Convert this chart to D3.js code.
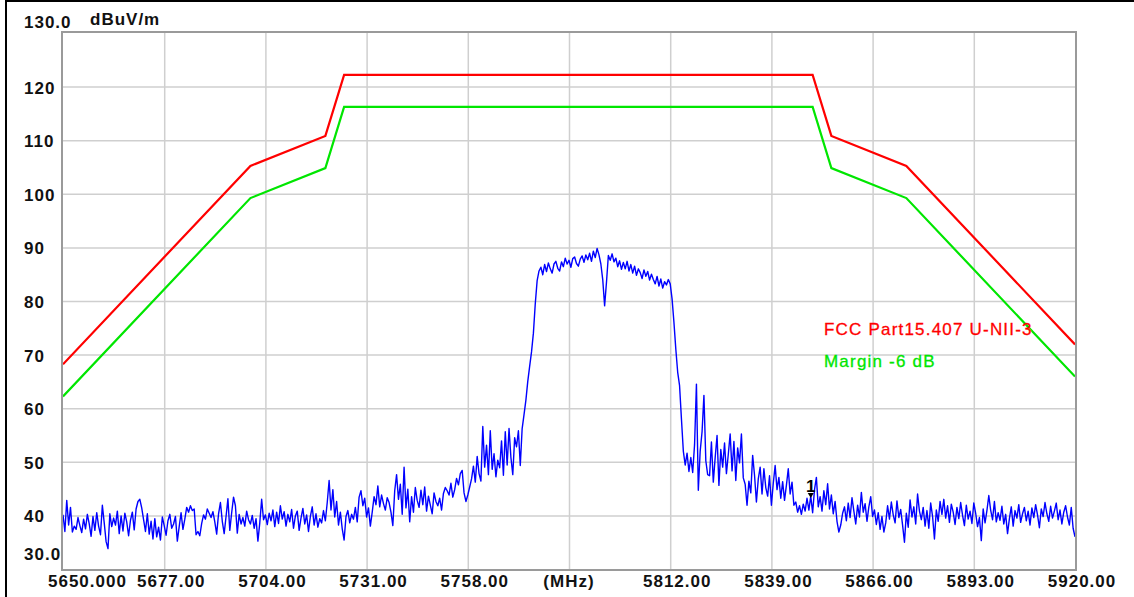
<!DOCTYPE html>
<html>
<head>
<meta charset="utf-8">
<script src="https://cdn.jsdelivr.net/npm/d3@7/dist/d3.min.js"></script>
<style>
  html, body { margin: 0; padding: 0; background: #fff; }
  text { font-family: "Liberation Sans", Arial, sans-serif; }
</style>
</head>
<body>
<div id="chart"></div>
<script>
var width = 1134,
	height = 597,
	plotLeft = 63,
	plotRight = 1075,
	plotTop = 33,
	plotBottom = 569;

// frequency axis (MHz)
var xTickValues = [5650, 5677, 5704, 5731, 5758, 5785, 5812, 5839, 5866, 5893, 5920];
var xTickLabels = ["5650.000", "5677.00", "5704.00", "5731.00", "5758.00", "(MHz)", "5812.00", "5839.00", "5866.00", "5893.00", "5920.00"];

// level axis (dBuV/m)
var yTickValues = [30, 40, 50, 60, 70, 80, 90, 100, 110, 120, 130];
var yTickLabels = ["30.0", "40", "50", "60", "70", "80", "90", "100", "110", "120", "130.0"];
var yUnit = "dBuV/m";

// FCC Part15.407 U-NII-3 limit and the -6 dB margin line
var limitFreq = [5650, 5700, 5720, 5725, 5850, 5855, 5875, 5920];
var limitLevel = [68.2, 105.2, 110.8, 122.2, 122.2, 110.8, 105.2, 71.9];
var marginLevel = [62.2, 99.2, 104.8, 116.2, 116.2, 104.8, 99.2, 65.9];
var legendNames = ["FCC Part15.407 U-NII-3", "Margin -6 dB"];

// measured trace, 5650 MHz .. 5920 MHz every 0.5 MHz
var traceStart = 5650,
	traceStep = 0.5;
var traceLevel = [
	40.1, 37.0, 42.8, 38.2, 41.5, 36.9, 38.0, 37.4, 39.6, 38.1,
	36.8, 39.3, 37.5, 40.2, 38.4, 36.1, 39.8, 37.2, 40.5, 38.0,
	36.4, 41.9, 38.6, 35.1, 33.8, 40.3, 37.9, 39.5, 38.2, 40.8,
	36.6, 39.9, 37.1, 40.4, 38.8, 36.2, 39.1, 40.6, 37.3, 41.2,
	42.6, 43.0, 41.4, 39.2, 37.0, 40.3, 36.5, 38.9, 35.6, 39.4,
	36.0, 37.8, 35.4, 39.7, 38.1, 36.3, 39.0, 40.2, 37.6, 38.4,
	39.8, 35.2, 37.9, 40.5, 37.4, 39.3, 41.5, 40.6, 41.8, 40.9,
	41.2, 36.4, 37.0, 36.2, 38.5, 40.1, 39.3, 41.2, 40.4, 39.6,
	40.7, 38.8, 36.5, 40.3, 42.4, 38.9, 36.6, 39.8, 43.1, 37.2,
	40.5, 43.4, 41.8, 36.7, 40.2, 38.4, 39.6, 38.0, 40.8, 39.2,
	38.4, 40.0, 37.6, 39.4, 35.2, 38.6, 43.0, 39.2, 40.1, 38.3,
	40.4, 39.0, 41.0, 37.9, 40.6, 38.5, 41.8, 39.3, 40.7, 38.0,
	40.2, 38.8, 41.1, 37.6, 39.9, 40.8, 37.2, 39.5, 41.3, 38.4,
	40.1, 37.0, 39.8, 41.6, 38.2, 40.3, 37.8, 39.4, 38.6, 40.9,
	39.0, 42.4, 46.5, 41.0, 44.8, 39.7, 42.6, 38.2, 40.6, 37.5,
	35.4, 39.8, 40.9, 38.6, 40.2, 39.3, 41.5, 38.8, 43.4, 44.6,
	41.8, 43.2, 39.7, 41.4, 38.0, 40.6, 43.5, 42.0, 45.5, 41.6,
	43.8, 42.2, 41.0, 43.3, 42.4, 40.6, 38.1, 44.6, 47.6, 43.0,
	45.8, 40.2, 49.0, 41.4, 44.9, 38.8, 43.5, 40.6, 45.2, 42.8,
	41.5, 44.7, 42.0, 45.3, 40.8, 43.6, 41.9, 40.3, 44.2, 42.6,
	41.8, 43.2, 41.0, 44.1, 45.2, 44.6, 43.8, 46.0, 43.4, 44.8,
	46.9, 45.7, 47.8, 48.4, 44.2, 42.6, 43.8, 45.3, 46.8, 49.2,
	46.2, 51.0, 47.8, 46.4, 56.6, 49.0, 53.1, 47.6, 55.8, 48.6,
	51.5, 47.2, 50.3, 48.9, 53.9, 47.5, 55.6, 49.4, 56.2, 50.8,
	47.6, 54.5, 52.8, 55.8, 49.3, 56.2, 58.8, 61.5, 65.0, 67.8,
	70.5, 74.0, 79.5, 83.8, 85.6, 86.3, 84.9, 86.8, 85.5, 87.1,
	86.0, 85.2, 86.9, 87.4, 86.1, 85.6, 87.3, 86.4, 88.0, 86.9,
	87.6, 86.3, 87.9, 88.2, 87.0, 86.5, 87.8, 88.4, 87.2, 88.6,
	87.7, 88.9, 87.4, 89.3, 88.1, 89.8, 88.6, 86.9, 84.0, 79.1,
	83.5, 88.5, 87.6, 88.8, 87.3, 88.0, 86.4, 87.5, 85.9, 87.2,
	86.0, 87.4, 85.6, 86.8, 85.2, 86.5, 84.8, 86.0, 85.3, 84.2,
	85.8, 84.6, 85.5, 83.9, 85.0, 84.0, 83.2, 84.6, 82.8, 84.1,
	82.4, 83.6, 83.0, 84.0, 83.2, 80.4, 76.0, 71.0, 66.7, 64.2,
	58.0, 52.0, 49.4, 51.6, 48.2, 50.8, 48.0, 53.2, 64.5, 44.7,
	52.0, 55.6, 62.4, 50.2, 47.6, 47.4, 53.7, 46.2, 50.8, 54.9,
	45.6, 52.3, 49.0, 53.5, 47.8, 51.4, 55.2, 48.3, 53.8, 46.5,
	52.6, 49.8, 55.2, 47.0, 45.8, 41.9, 46.4, 44.2, 51.2, 47.5,
	42.5, 46.8, 49.0, 44.0, 48.7, 45.2, 43.6, 47.4, 41.9, 46.0,
	49.3, 44.8, 47.1, 43.2, 46.3, 42.8, 45.6, 48.7, 44.0, 46.2,
	41.9, 42.5, 40.6, 41.8, 40.2, 42.1, 40.8, 43.2, 41.0, 43.6,
	40.5, 44.8, 47.1, 41.6, 43.5, 40.8, 44.6, 42.0, 45.9, 41.2,
	43.8, 40.3, 42.6, 38.9, 36.9, 38.2, 40.4, 41.6, 39.0, 42.3,
	39.6, 43.3, 40.8, 38.4, 41.9, 39.7, 44.3, 40.6, 42.2, 38.9,
	41.6, 43.5, 39.8, 41.0, 38.3, 40.5, 37.4, 39.8, 36.9, 38.6,
	41.8, 39.3, 42.5, 40.1, 38.6, 42.7, 39.6, 41.1, 38.2, 35.0,
	40.4, 37.8, 42.9, 39.7, 41.6, 38.4, 44.0, 40.8, 39.2, 41.5,
	38.0, 40.9, 37.6, 42.3, 39.8, 35.6, 41.0, 38.9, 42.6, 40.2,
	43.0, 39.5, 41.8, 38.7, 42.1, 40.6, 38.3, 41.5, 39.4, 42.4,
	40.0, 38.1, 41.9, 39.3, 40.8, 38.5, 42.3, 40.4, 37.9, 39.6,
	35.3, 41.2, 38.6, 40.9, 43.7, 41.0, 39.2, 42.6, 38.8, 40.5,
	39.1, 41.7, 38.4, 40.2, 36.6, 39.4, 41.6, 38.0, 40.9, 39.5,
	42.0, 38.7, 40.3, 41.5, 39.0, 40.8, 38.2, 41.4, 39.6, 42.0,
	40.1, 37.7, 41.2, 39.8, 42.4, 40.3, 38.9, 41.7, 39.5, 40.8,
	42.3, 39.2, 41.0, 38.4, 40.6, 41.8, 39.7, 38.2, 41.5, 37.6,
	36.0
];

// marker 1
var markerFreq = 5849.5,
	markerLabel = "1";

var x = d3.scaleLinear().domain([5650, 5920]).range([plotLeft, plotRight]);
var y = d3.scaleLinear().domain([30, 130]).range([plotBottom, plotTop]);

var svg = d3.select("#chart").append("svg")
	.attr("width", width)
	.attr("height", height)
	.style("display", "block");

svg.append("rect")
	.attr("width", width)
	.attr("height", height)
	.attr("fill", "#fff");

// outer frame (left and top edges are visible)
svg.append("path")
	.attr("d", "M6," + height + "V1H" + width)
	.attr("fill", "none")
	.attr("stroke", "#000")
	.attr("stroke-width", 2);

// grid
svg.append("g")
	.attr("class", "xgrid")
	.attr("transform", "translate(0," + plotBottom + ")")
	.call(d3.axisBottom(x)
		.tickValues(xTickValues.slice(1, -1))
		.tickSize(-(plotBottom - plotTop))
		.tickFormat(""))
	.call(function(g) { g.select(".domain").remove(); })
	.selectAll("line")
	.attr("stroke", "#cfcfcf")
	.attr("stroke-width", 1.5);

svg.append("g")
	.attr("class", "ygrid")
	.attr("transform", "translate(" + plotLeft + ",0)")
	.call(d3.axisLeft(y)
		.tickValues(yTickValues.slice(1, -1))
		.tickSize(-(plotRight - plotLeft))
		.tickFormat(""))
	.call(function(g) { g.select(".domain").remove(); })
	.selectAll("line")
	.attr("stroke", "#cfcfcf")
	.attr("stroke-width", 1.5);

// plot border
svg.append("rect")
	.attr("x", plotLeft - 1)
	.attr("y", plotTop - 1)
	.attr("width", plotRight - plotLeft + 2)
	.attr("height", plotBottom - plotTop + 2)
	.attr("fill", "none")
	.attr("stroke", "#9a9a9a")
	.attr("stroke-width", 2);

svg.append("clipPath")
	.attr("id", "plot-clip")
	.append("rect")
	.attr("x", plotLeft)
	.attr("y", plotTop)
	.attr("width", plotRight - plotLeft)
	.attr("height", plotBottom - plotTop);

var plot = svg.append("g").attr("clip-path", "url(#plot-clip)");

var limitLine = d3.line()
	.x(function(d, i) { return x(limitFreq[i]); })
	.y(function(d) { return y(d); });

var traceLine = d3.line()
	.x(function(d, i) { return x(traceStart + i * traceStep); })
	.y(function(d) { return y(d); });

plot.append("path")
	.datum(traceLevel)
	.attr("d", traceLine)
	.attr("fill", "none")
	.attr("stroke", "#0000ff")
	.attr("stroke-width", 1.4)
	.attr("stroke-linejoin", "round");

plot.append("path")
	.datum(marginLevel)
	.attr("d", limitLine)
	.attr("fill", "none")
	.attr("stroke", "#00e600")
	.attr("stroke-width", 2.2);

plot.append("path")
	.datum(limitLevel)
	.attr("d", limitLine)
	.attr("fill", "none")
	.attr("stroke", "#ff0000")
	.attr("stroke-width", 2.2);

// marker
var markerIndex = Math.round((markerFreq - traceStart) / traceStep);
var mx = x(markerFreq),
	my = y(traceLevel[markerIndex]);

svg.append("path")
	.attr("d", "M" + (mx - 3) + "," + (my - 3) + "L" + (mx + 3) + "," + (my - 3) + "L" + mx + "," + (my + 2) + "Z")
	.attr("fill", "#000");

svg.append("text")
	.attr("x", mx)
	.attr("y", my - 4)
	.attr("text-anchor", "middle")
	.attr("font-size", "17px")
	.attr("font-weight", "bold")
	.attr("fill", "#000")
	.text(markerLabel);

// y labels
svg.append("g")
	.selectAll("text")
	.data(yTickValues)
	.enter()
	.append("text")
	.attr("x", 24)
	.attr("y", function(d, i) {
		if (i === 0) return y(d) - 9;
		if (i === yTickValues.length - 1) return y(d) - 5;
		return y(d) + 7;
	})
	.attr("font-size", "17px")
	.attr("font-weight", "bold")
	.attr("letter-spacing", "1px")
	.attr("fill", "#111")
	.text(function(d, i) { return yTickLabels[i]; });

svg.append("text")
	.attr("x", 90)
	.attr("y", 25)
	.attr("font-size", "17px")
	.attr("font-weight", "bold")
	.attr("letter-spacing", "1px")
	.attr("fill", "#111")
	.text(yUnit);

// x labels
svg.append("g")
	.selectAll("text")
	.data(xTickValues)
	.enter()
	.append("text")
	.attr("x", function(d, i) {
		if (i === 0) return 48;
		if (xTickLabels[i] === "(MHz)") return x(d);
		return x(d) + 7;
	})
	.attr("y", 587)
	.attr("text-anchor", function(d, i) { return i === 0 ? "start" : "middle"; })
	.attr("font-size", "17px")
	.attr("font-weight", "bold")
	.attr("letter-spacing", "1px")
	.attr("fill", "#111")
	.text(function(d, i) { return xTickLabels[i]; });

// legend
svg.append("g")
	.selectAll("text")
	.data(legendNames)
	.enter()
	.append("text")
	.attr("x", 824)
	.attr("y", function(d, i) { return 335 + i * 32; })
	.attr("font-size", "17px")
	.attr("letter-spacing", "1.2px")
	.attr("stroke", function(d, i) { return i === 0 ? "#ff0000" : "#00e600"; })
	.attr("stroke-width", 0.3)
	.attr("fill", function(d, i) { return i === 0 ? "#ff0000" : "#00e600"; })
	.text(function(d) { return d; });
</script>
</body>
</html>
